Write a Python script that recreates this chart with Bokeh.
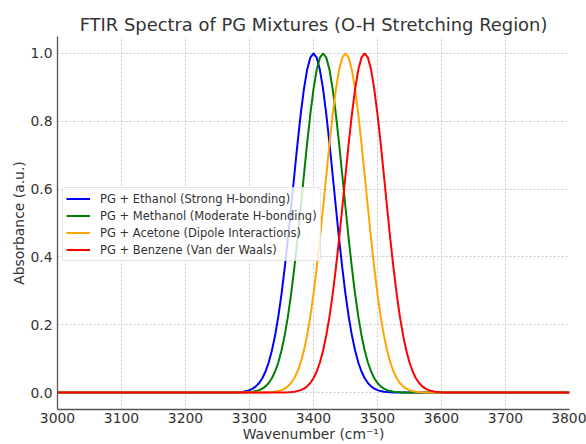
from bokeh.plotting import figure
from bokeh.models import Legend, LegendItem, FixedTicker, NumeralTickFormatter, Range1d
from bokeh.embed import file_html
from bokeh.resources import INLINE

# Wavenumber sample positions (cm^-1)
wavenumber = [3000] + list(range(3260, 3625, 5)) + [3800]

# Absorbance, one list per mixture (same sample positions)
ethanol = [0, 0, 0,
           0.0002, 0.0004, 0.0008, 0.0014, 0.0025, 0.0043, 0.0071, 0.0115, 0.0182, 0.0281,
           0.0422, 0.0620, 0.0887, 0.1238, 0.1686, 0.2241, 0.2905, 0.3674, 0.4533, 0.5457,
           0.6408, 0.7342, 0.8206, 0.8947, 0.9518, 0.9877, 1.0,
           0.9877, 0.9518, 0.8947, 0.8206, 0.7342, 0.6408, 0.5457, 0.4533, 0.3674, 0.2905,
           0.2241, 0.1686, 0.1238, 0.0887, 0.0620, 0.0422, 0.0281, 0.0182, 0.0115, 0.0071,
           0.0043, 0.0025, 0.0014, 0.0008, 0.0004, 0.0002,
           0, 0, 0, 0, 0, 0, 0, 0, 0, 0, 0, 0, 0, 0, 0, 0, 0, 0, 0]
methanol = [0, 0, 0, 0, 0, 0,
            0.0002, 0.0004, 0.0008, 0.0014, 0.0025, 0.0043, 0.0071, 0.0115, 0.0182, 0.0281,
            0.0422, 0.0620, 0.0887, 0.1238, 0.1686, 0.2241, 0.2905, 0.3674, 0.4533, 0.5457,
            0.6408, 0.7342, 0.8206, 0.8947, 0.9518, 0.9877, 1.0,
            0.9877, 0.9518, 0.8947, 0.8206, 0.7342, 0.6408, 0.5457, 0.4533, 0.3674, 0.2905,
            0.2241, 0.1686, 0.1238, 0.0887, 0.0620, 0.0422, 0.0281, 0.0182, 0.0115, 0.0071,
            0.0043, 0.0025, 0.0014, 0.0008, 0.0004, 0.0002,
            0, 0, 0, 0, 0, 0, 0, 0, 0, 0, 0, 0, 0, 0, 0, 0]
acetone = [0, 0, 0, 0, 0, 0, 0, 0, 0, 0, 0, 0, 0,
           0.0002, 0.0004, 0.0008, 0.0014, 0.0025, 0.0043, 0.0071, 0.0115, 0.0182, 0.0281,
           0.0422, 0.0620, 0.0887, 0.1238, 0.1686, 0.2241, 0.2905, 0.3674, 0.4533, 0.5457,
           0.6408, 0.7342, 0.8206, 0.8947, 0.9518, 0.9877, 1.0,
           0.9877, 0.9518, 0.8947, 0.8206, 0.7342, 0.6408, 0.5457, 0.4533, 0.3674, 0.2905,
           0.2241, 0.1686, 0.1238, 0.0887, 0.0620, 0.0422, 0.0281, 0.0182, 0.0115, 0.0071,
           0.0043, 0.0025, 0.0014, 0.0008, 0.0004, 0.0002,
           0, 0, 0, 0, 0, 0, 0, 0, 0]
benzene = [0, 0, 0, 0, 0, 0, 0, 0, 0, 0, 0, 0, 0, 0, 0, 0, 0, 0, 0,
           0.0002, 0.0004, 0.0008, 0.0014, 0.0025, 0.0043, 0.0071, 0.0115, 0.0182, 0.0281,
           0.0422, 0.0620, 0.0887, 0.1238, 0.1686, 0.2241, 0.2905, 0.3674, 0.4533, 0.5457,
           0.6408, 0.7342, 0.8206, 0.8947, 0.9518, 0.9877, 1.0,
           0.9877, 0.9518, 0.8947, 0.8206, 0.7342, 0.6408, 0.5457, 0.4533, 0.3674, 0.2905,
           0.2241, 0.1686, 0.1238, 0.0887, 0.0620, 0.0422, 0.0281, 0.0182, 0.0115, 0.0071,
           0.0043, 0.0025, 0.0014, 0.0008, 0.0004, 0.0002,
           0, 0, 0]

series_labels = ["PG + Ethanol (Strong H-bonding)",
                 "PG + Methanol (Moderate H-bonding)",
                 "PG + Acetone (Dipole Interactions)",
                 "PG + Benzene (Van der Waals)"]
series_values = [ethanol, methanol, acetone, benzene]
series_colors = ["blue", "green", "orange", "red"]

x_ticks = [3000, 3100, 3200, 3300, 3400, 3500, 3600, 3700, 3800]
y_ticks = [0.0, 0.2, 0.4, 0.6, 0.8, 1.0]

FONT = "DejaVu Sans"
TEXT = "#333333"
SPINE = "#555555"

p = figure(width=586, height=444,
           x_range=Range1d(3000, 3800), y_range=Range1d(-0.05, 1.05),
           output_backend="svg", toolbar_location=None,
           min_border_left=57, min_border_right=17, min_border_top=36, min_border_bottom=35,
           title="FTIR Spectra of PG Mixtures (O-H Stretching Region)")
p.background_fill_color = "white"
p.border_fill_color = "white"
p.outline_line_color = None

p.title.align = "center"
p.title.text_font = FONT
p.title.text_font_size = "17.9px"
p.title.text_font_style = "normal"
p.title.text_color = TEXT
p.title.standoff = 3

for ax in (p.xaxis[0], p.yaxis[0]):
    ax.axis_line_color = SPINE
    ax.axis_line_width = 1.3
    ax.major_tick_out = 0
    ax.major_tick_in = 0
    ax.minor_tick_out = 0
    ax.minor_tick_in = 0
    ax.major_label_text_font = FONT
    ax.major_label_text_font_size = "13.9px"
    ax.major_label_text_color = TEXT
    ax.axis_label_text_font = FONT
    ax.axis_label_text_font_size = "13.9px"
    ax.axis_label_text_font_style = "normal"
    ax.axis_label_text_color = TEXT

p.xaxis[0].ticker = FixedTicker(ticks=x_ticks)
p.yaxis[0].ticker = FixedTicker(ticks=y_ticks)
p.yaxis[0].formatter = NumeralTickFormatter(format="0.0")
p.xaxis[0].axis_label = "Wavenumber (cm\u207b\u00b9)"
p.yaxis[0].axis_label = "Absorbance (a.u.)"
p.xaxis[0].major_label_standoff = 3
p.yaxis[0].major_label_standoff = 5
p.xaxis[0].axis_label_standoff = 0
p.yaxis[0].axis_label_standoff = 0

for g in (p.xgrid[0], p.ygrid[0]):
    g.grid_line_color = "#c8c8c8"
    g.grid_line_dash = "2 2"
    g.grid_line_width = 1

items = []
for lab, vals, col in zip(series_labels, series_values, series_colors):
    r = p.line(wavenumber, vals, line_color=col, line_width=2)
    items.append(LegendItem(label=lab, renderers=[r]))

legend = Legend(items=items, location=(5, 148))
legend.label_text_font = FONT
legend.label_text_font_size = "11.5px"
legend.label_text_color = TEXT
legend.glyph_width = 24
legend.glyph_height = 15
legend.label_height = 15
legend.label_standoff = 10
legend.spacing = 2
legend.padding = 3
legend.margin = 0
legend.border_line_color = "#cccccc"
legend.border_line_width = 1
legend.background_fill_color = "white"
legend.background_fill_alpha = 0.8
if hasattr(legend, "border_radius"):
    legend.border_radius = 3
p.add_layout(legend)

open("out.html", "w").write(file_html(p, INLINE))
